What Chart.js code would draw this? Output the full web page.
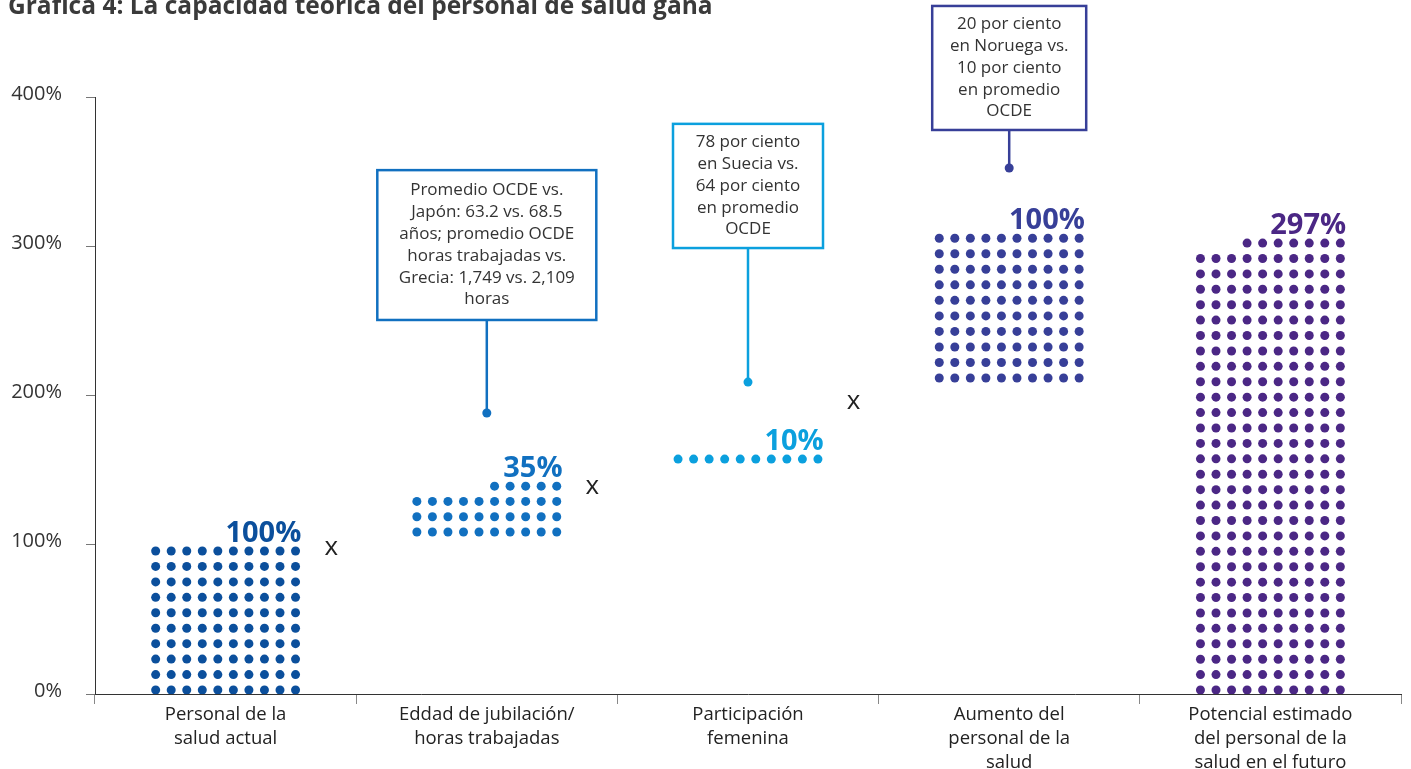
<!DOCTYPE html>
<html>
<head>
<meta charset="utf-8">
<script src="https://cdn.jsdelivr.net/npm/chart.js@4"></script>
<style>
  body { margin: 0; background: #fff; }
  canvas { display: block; }
</style>
</head>
<body>
<canvas id="capacidadChart" width="1411" height="769"></canvas>
<script>
// Categories along the x axis
const categories = [
  ['Personal de la', 'salud actual'],
  ['Eddad de jubilación/', 'horas trabajadas'],
  ['Participación', 'femenina'],
  ['Aumento del', 'personal de la', 'salud'],
  ['Potencial estimado', 'del personal de la', 'salud en el futuro']
];

// One dot per percentage point, ten dots per row
const dotCounts = [100, 35, 10, 100, 297];
const valueLabels = ['100%', '35%', '10%', '100%', '297%'];

// Vertical extent of each dot block (in % of the y axis)
const barLow = [-2.5, 103.4, 152.2, 206.5, -2.5];
const barHigh = [101, 144.4, 162.6, 310.6, 307.3];

const barColors = ['#0b4f9c', '#1170c0', '#0ba0de', '#373f98', '#4b2785'];

const yTicks = [0, 100, 200, 300, 400];

// "x" signs between the factors
const multiplierY = [98, 139, 196];

// Callout boxes
const calloutLines = [
  null,
  ['Promedio OCDE vs.', 'Japón: 63.2 vs. 68.5', 'años; promedio OCDE', 'horas trabajadas vs.', 'Grecia: 1,749 vs. 2,109', 'horas'],
  ['78 por ciento', 'en Suecia vs.', '64 por ciento', 'en promedio', 'OCDE'],
  ['20 por ciento', 'en Noruega vs.', '10 por ciento', 'en promedio', 'OCDE'],
  null
];
const calloutTop = [null, 351, 382, 461, null];
const calloutBottom = [null, 250.6, 298.8, 377.9, null];
const calloutPoint = [null, 188.3, 209, 352.4, null];
const calloutWidth = [0, 219, 150, 154, 0];

const titleText = 'Gráfica 4: La capacidad teórica del personal de salud gana';

const dotPlugin = {
  id: 'dotPlugin',
  afterDatasetsDraw(chart) {
    const ctx = chart.ctx;
    const area = chart.chartArea;
    const meta = chart.getDatasetMeta(0);
    const yScale = chart.scales.y;

    meta.data.forEach((el, i) => {
      const left = el.x - el.width / 2;
      const right = el.x + el.width / 2;
      const top = Math.min(el.y, el.base);
      const bottom = Math.max(el.y, el.base);
      const count = dotCounts[i];
      const rows = Math.ceil(count / 10);
      const rowH = (bottom - top) / rows;
      const colW = el.width / 10;

      ctx.save();
      ctx.beginPath();
      ctx.rect(area.left, area.top - 200, area.right - area.left, area.bottom - area.top + 200);
      ctx.clip();
      ctx.fillStyle = barColors[i];
      for (let r = 0; r < rows; r++) {
        const n = Math.min(10, count - r * 10);
        for (let c = 10 - n; c < 10; c++) {
          ctx.beginPath();
          ctx.arc(left + (c + 0.5) * colW, bottom - (r + 0.5) * rowH, 4.5, 0, Math.PI * 2);
          ctx.fill();
        }
      }
      ctx.restore();

      // value label above the block
      ctx.save();
      ctx.fillStyle = barColors[i];
      ctx.font = 'bold 29px "Open Sans"';
      ctx.textAlign = 'right';
      ctx.textBaseline = 'alphabetic';
      ctx.fillText(valueLabels[i], right - 2, top - 1);
      ctx.restore();

      // callout box with connector
      if (calloutLines[i]) {
        const yTop = yScale.getPixelForValue(calloutTop[i]);
        const yBot = yScale.getPixelForValue(calloutBottom[i]);
        const yPt = yScale.getPixelForValue(calloutPoint[i]);
        const w = calloutWidth[i];
        const cx = el.x;
        ctx.save();
        ctx.strokeStyle = barColors[i];
        ctx.fillStyle = barColors[i];
        ctx.lineWidth = 2.5;
        ctx.strokeRect(cx - w / 2, yTop, w, yBot - yTop);
        ctx.beginPath();
        ctx.moveTo(cx, yBot);
        ctx.lineTo(cx, yPt);
        ctx.stroke();
        ctx.beginPath();
        ctx.arc(cx, yPt, 4.5, 0, Math.PI * 2);
        ctx.fill();

        const lines = calloutLines[i];
        const lh = 21.8;
        const midY = (yTop + yBot) / 2;
        ctx.fillStyle = '#333';
        ctx.font = '17px "Open Sans"';
        ctx.textAlign = 'center';
        ctx.textBaseline = 'middle';
        lines.forEach((t, k) => {
          ctx.fillText(t, cx, midY + (k - (lines.length - 1) / 2) * lh);
        });
        ctx.restore();
      }
    });

    // multiplication signs
    const xScale = chart.scales.x;
    ctx.save();
    ctx.fillStyle = '#222';
    ctx.font = '26px "Open Sans"';
    ctx.textAlign = 'center';
    ctx.textBaseline = 'middle';
    multiplierY.forEach((v, i) => {
      ctx.fillText('x', xScale.getPixelForValue(i + 0.5) - 25, yScale.getPixelForValue(v));
    });
    ctx.restore();

    // title, partly cut off at the top edge
    ctx.save();
    ctx.fillStyle = '#3a3a3a';
    ctx.font = 'bold 24.5px "Open Sans"';
    ctx.textAlign = 'left';
    ctx.textBaseline = 'alphabetic';
    ctx.fillText(titleText, 8, 14);
    ctx.restore();
  }
};

new Chart(document.getElementById('capacidadChart'), {
  type: 'bar',
  data: {
    labels: categories,
    datasets: [{
      data: barLow.map((lo, i) => [lo, barHigh[i]]),
      backgroundColor: 'rgba(0,0,0,0)',
      borderWidth: 0,
      categoryPercentage: 1,
      barPercentage: 0.595
    }]
  },
  options: {
    responsive: false,
    animation: false,
    devicePixelRatio: 1,
    layout: {
      padding: { top: 97, right: 10, left: 0, bottom: 0 }
    },
    plugins: {
      legend: { display: false },
      tooltip: { enabled: false }
    },
    scales: {
      x: {
        grid: {
          offset: true,
          drawOnChartArea: false,
          drawTicks: true,
          tickLength: 10,
          color: '#888'
        },
        border: { color: '#333', width: 1 },
        ticks: {
          color: '#222',
          padding: -1,
          maxRotation: 0,
          autoSkip: false,
          font: { family: '"Open Sans"', size: 18.5, lineHeight: '24px' }
        },
        afterFit(scale) { scale.height = 75; }
      },
      y: {
        min: 0,
        max: 400,
        afterBuildTicks(scale) {
          scale.ticks = yTicks.map(v => ({ value: v }));
        },
        grid: {
          drawOnChartArea: false,
          drawTicks: true,
          tickLength: 9,
          color: '#777'
        },
        border: { color: '#333', width: 1 },
        ticks: {
          color: '#333',
          padding: 24,
          labelOffset: -3,
          font: { family: '"Open Sans"', size: 20 },
          callback: v => v + '%'
        },
        afterFit(scale) { scale.width = 95; }
      }
    }
  },
  plugins: [dotPlugin]
});
</script>
</body>
</html>
